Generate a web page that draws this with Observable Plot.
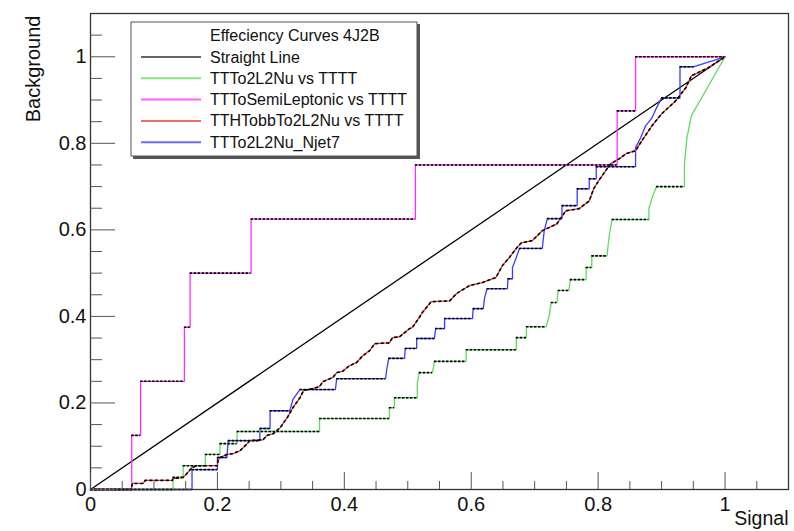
<!DOCTYPE html>
<html><head><meta charset="utf-8">
<script src="https://cdn.jsdelivr.net/npm/d3@7"></script>
<script src="https://cdn.jsdelivr.net/npm/@observablehq/plot@0.6"></script>
<style>body{margin:0;background:#fff}#chart{width:794px;height:531px}</style>
</head><body><div id="chart"></div>
<script>
// ---- data (signal efficiency, background efficiency) ----
const legendTitle = "Effeciency Curves 4J2B";
const seriesNames = ["Straight Line","TTTo2L2Nu vs TTTT","TTToSemiLeptonic vs TTTT","TTHTobbTo2L2Nu vs TTTT","TTTo2L2Nu_Njet7"];
const seriesColors = ["#000000","#5fdc5f","#ff2eff","#ec3a3a","#3b3bff"];

const straightLine = [[0,0],[1,1]];

const ttTo2L2Nu = [[0,0],[0.130,0],[0.130,0.028],[0.146,0.028],[0.146,0.055],[0.181,0.055],[0.181,0.081],[0.204,0.081],[0.204,0.106],[0.231,0.106],[0.231,0.134],[0.361,0.134],[0.361,0.164],[0.471,0.164],[0.471,0.189],[0.479,0.189],[0.479,0.212],[0.515,0.212],[0.515,0.245],[0.518,0.270],[0.539,0.270],[0.542,0.296],[0.592,0.296],[0.592,0.323],[0.671,0.323],[0.671,0.351],[0.687,0.351],[0.687,0.376],[0.718,0.376],[0.723,0.402],[0.726,0.432],[0.735,0.432],[0.737,0.460],[0.754,0.460],[0.756,0.485],[0.781,0.485],[0.781,0.513],[0.790,0.513],[0.790,0.540],[0.814,0.540],[0.816,0.568],[0.818,0.591],[0.822,0.624],[0.880,0.624],[0.880,0.650],[0.885,0.674],[0.892,0.700],[0.936,0.700],[0.936,0.753],[0.940,0.813],[0.947,0.864],[1,1]];

const ttToSemiLeptonic = [[0,0],[0.065,0],[0.065,0.125],[0.079,0.125],[0.079,0.25],[0.148,0.25],[0.148,0.375],[0.157,0.375],[0.157,0.5],[0.253,0.5],[0.253,0.625],[0.512,0.625],[0.512,0.75],[0.830,0.75],[0.830,0.875],[0.859,0.875],[0.859,1],[1,1]];

const tthToBBTo2L2Nu = [[0,0],[0.064,0],[0.066,0.014],[0.083,0.014],[0.086,0.021],[0.129,0.021],[0.130,0.025],[0.146,0.028],[0.152,0.037],[0.160,0.051],[0.168,0.055],[0.200,0.055],[0.201,0.067],[0.204,0.074],[0.215,0.081],[0.225,0.083],[0.236,0.090],[0.247,0.106],[0.251,0.113],[0.272,0.115],[0.278,0.125],[0.288,0.129],[0.299,0.143],[0.310,0.166],[0.319,0.189],[0.330,0.212],[0.336,0.229],[0.350,0.233],[0.361,0.238],[0.366,0.249],[0.382,0.259],[0.388,0.270],[0.397,0.273],[0.408,0.286],[0.419,0.293],[0.429,0.309],[0.440,0.321],[0.448,0.337],[0.471,0.339],[0.476,0.351],[0.487,0.353],[0.503,0.372],[0.507,0.374],[0.518,0.397],[0.523,0.409],[0.537,0.434],[0.566,0.436],[0.577,0.453],[0.597,0.471],[0.617,0.478],[0.639,0.490],[0.649,0.517],[0.660,0.536],[0.672,0.559],[0.679,0.570],[0.696,0.575],[0.712,0.598],[0.735,0.614],[0.749,0.644],[0.770,0.649],[0.786,0.667],[0.793,0.695],[0.801,0.714],[0.812,0.737],[0.820,0.753],[0.833,0.764],[0.844,0.776],[0.859,0.783],[0.869,0.806],[0.885,0.841],[0.900,0.868],[0.922,0.898],[0.938,0.928],[0.947,0.956],[0.974,0.975],[1,1]];

const ttTo2L2NuNjet7 = [[0,0],[0.160,0],[0.160,0.046],[0.200,0.046],[0.200,0.074],[0.215,0.074],[0.217,0.113],[0.267,0.113],[0.267,0.141],[0.283,0.141],[0.283,0.182],[0.314,0.182],[0.319,0.208],[0.330,0.231],[0.386,0.231],[0.388,0.256],[0.465,0.256],[0.467,0.279],[0.470,0.303],[0.495,0.303],[0.496,0.326],[0.514,0.326],[0.514,0.349],[0.542,0.349],[0.544,0.372],[0.558,0.372],[0.558,0.395],[0.602,0.395],[0.603,0.418],[0.619,0.418],[0.621,0.443],[0.625,0.464],[0.657,0.464],[0.658,0.487],[0.665,0.487],[0.665,0.513],[0.671,0.536],[0.676,0.557],[0.712,0.557],[0.715,0.598],[0.720,0.626],[0.743,0.626],[0.743,0.656],[0.767,0.656],[0.767,0.695],[0.786,0.695],[0.786,0.718],[0.797,0.718],[0.797,0.746],[0.859,0.746],[0.859,0.790],[0.867,0.813],[0.875,0.841],[0.885,0.859],[0.892,0.882],[0.900,0.905],[0.929,0.905],[0.929,0.977],[0.951,0.977],[1,1]];

const majorTicks = [0,0.2,0.4,0.6,0.8,1];
const minorTicks = [0.05,0.1,0.15,0.25,0.3,0.35,0.45,0.5,0.55,0.65,0.7,0.75,0.85,0.9,0.95,1.05];
const xTitle = "Signal";
const yTitle = "Background";

// ---- build ----
const allSeries = [straightLine, ttTo2L2Nu, ttToSemiLeptonic, tthToBBTo2L2Nu, ttTo2L2NuNjet7];
const flatSegs = pts => {
  const out = [];
  for (let i = 0; i < pts.length - 1; i++)
    if (pts[i][1] === pts[i+1][1] && pts[i+1][0] > pts[i][0]) out.push({x1: pts[i][0], x2: pts[i+1][0], y: pts[i][1]});
  return out;
};
const font = "'Liberation Sans', Arial, Helvetica, sans-serif";

const marks = [];
marks.push(Plot.line(straightLine, {x: d => d[0], y: d => d[1], stroke: "#000", strokeWidth: 1.3}));
[4,3,1,2].forEach(k => {
  marks.push(Plot.line(allSeries[k], {x: d => d[0], y: d => d[1], stroke: seriesColors[k], strokeWidth: 1.3}));
});
[1,2,4].forEach(k => {
  marks.push(Plot.ruleY(flatSegs(allSeries[k]), {y: "y", x1: "x1", x2: "x2", stroke: "#000", strokeWidth: 1.6, strokeDasharray: "2.5,1.5"}));
});
marks.push(Plot.line(tthToBBTo2L2Nu, {x: d => d[0], y: d => d[1], stroke: "#000", strokeWidth: 1.6, strokeDasharray: "2,3.5"}));

marks.push(Plot.frame({stroke: "#333", strokeWidth: 1.3}));
marks.push(Plot.axisX(majorTicks, {tickSize: -17, text: null, stroke: "#555", label: null}));
marks.push(Plot.axisX(minorTicks, {tickSize: -8, text: null, stroke: "#555", label: null}));
marks.push(Plot.axisY(majorTicks, {tickSize: -25, text: null, stroke: "#555", label: null}));
marks.push(Plot.axisY(minorTicks, {tickSize: -12, text: null, stroke: "#555", label: null}));
marks.push(Plot.axisX(majorTicks, {tickSize: 0, tickPadding: 7, fontSize: 20, tickFormat: d => String(d), label: null, fill: "#111"}));
marks.push(Plot.axisY(majorTicks, {tickSize: 0, tickPadding: 4, fontSize: 20, tickFormat: d => String(d), label: null, fill: "#111"}));
marks.push(Plot.text([xTitle], {frameAnchor: "bottom-right", textAnchor: "end", dy: 35, fontSize: 19.5, fill: "#111"}));
marks.push(Plot.text([yTitle], {frameAnchor: "top-left", textAnchor: "end", rotate: -90, dx: -65, dy: 2, fontSize: 20, fill: "#111"}));

const svg = Plot.plot({
  width: 794, height: 531,
  marginLeft: 90, marginRight: 6, marginTop: 13, marginBottom: 42,
  x: {domain: [0, 1.1]}, y: {domain: [0, 1.1]},
  style: {fontFamily: font, background: "#fff", overflow: "visible"},
  marks
});

// legend (inside the frame, like the reference)
const g = d3.select(svg).append("g").attr("font-family", font).attr("font-size", 16).attr("text-anchor", "start");
g.append("rect").attr("x", 133).attr("y", 24).attr("width", 287).attr("height", 135).attr("fill", "#555");
g.append("rect").attr("x", 131).attr("y", 22).attr("width", 286).attr("height", 134).attr("fill", "#fff").attr("stroke", "#555").attr("stroke-width", 1);
g.append("text").attr("x", 210).attr("y", 41).attr("fill", "#111").text(legendTitle);
seriesNames.forEach((name, i) => {
  const cy = 57 + i * 21.3;
  g.append("line").attr("x1", 141).attr("x2", 201).attr("y1", cy).attr("y2", cy)
    .attr("stroke", seriesColors[i]).attr("stroke-width", 2).attr("stroke-opacity", i === 0 ? 0.6 : 0.75);
  g.append("text").attr("x", 210).attr("y", cy + 5.5).attr("fill", "#111").text(name);
});

document.getElementById("chart").appendChild(svg);
</script>
</body></html>
